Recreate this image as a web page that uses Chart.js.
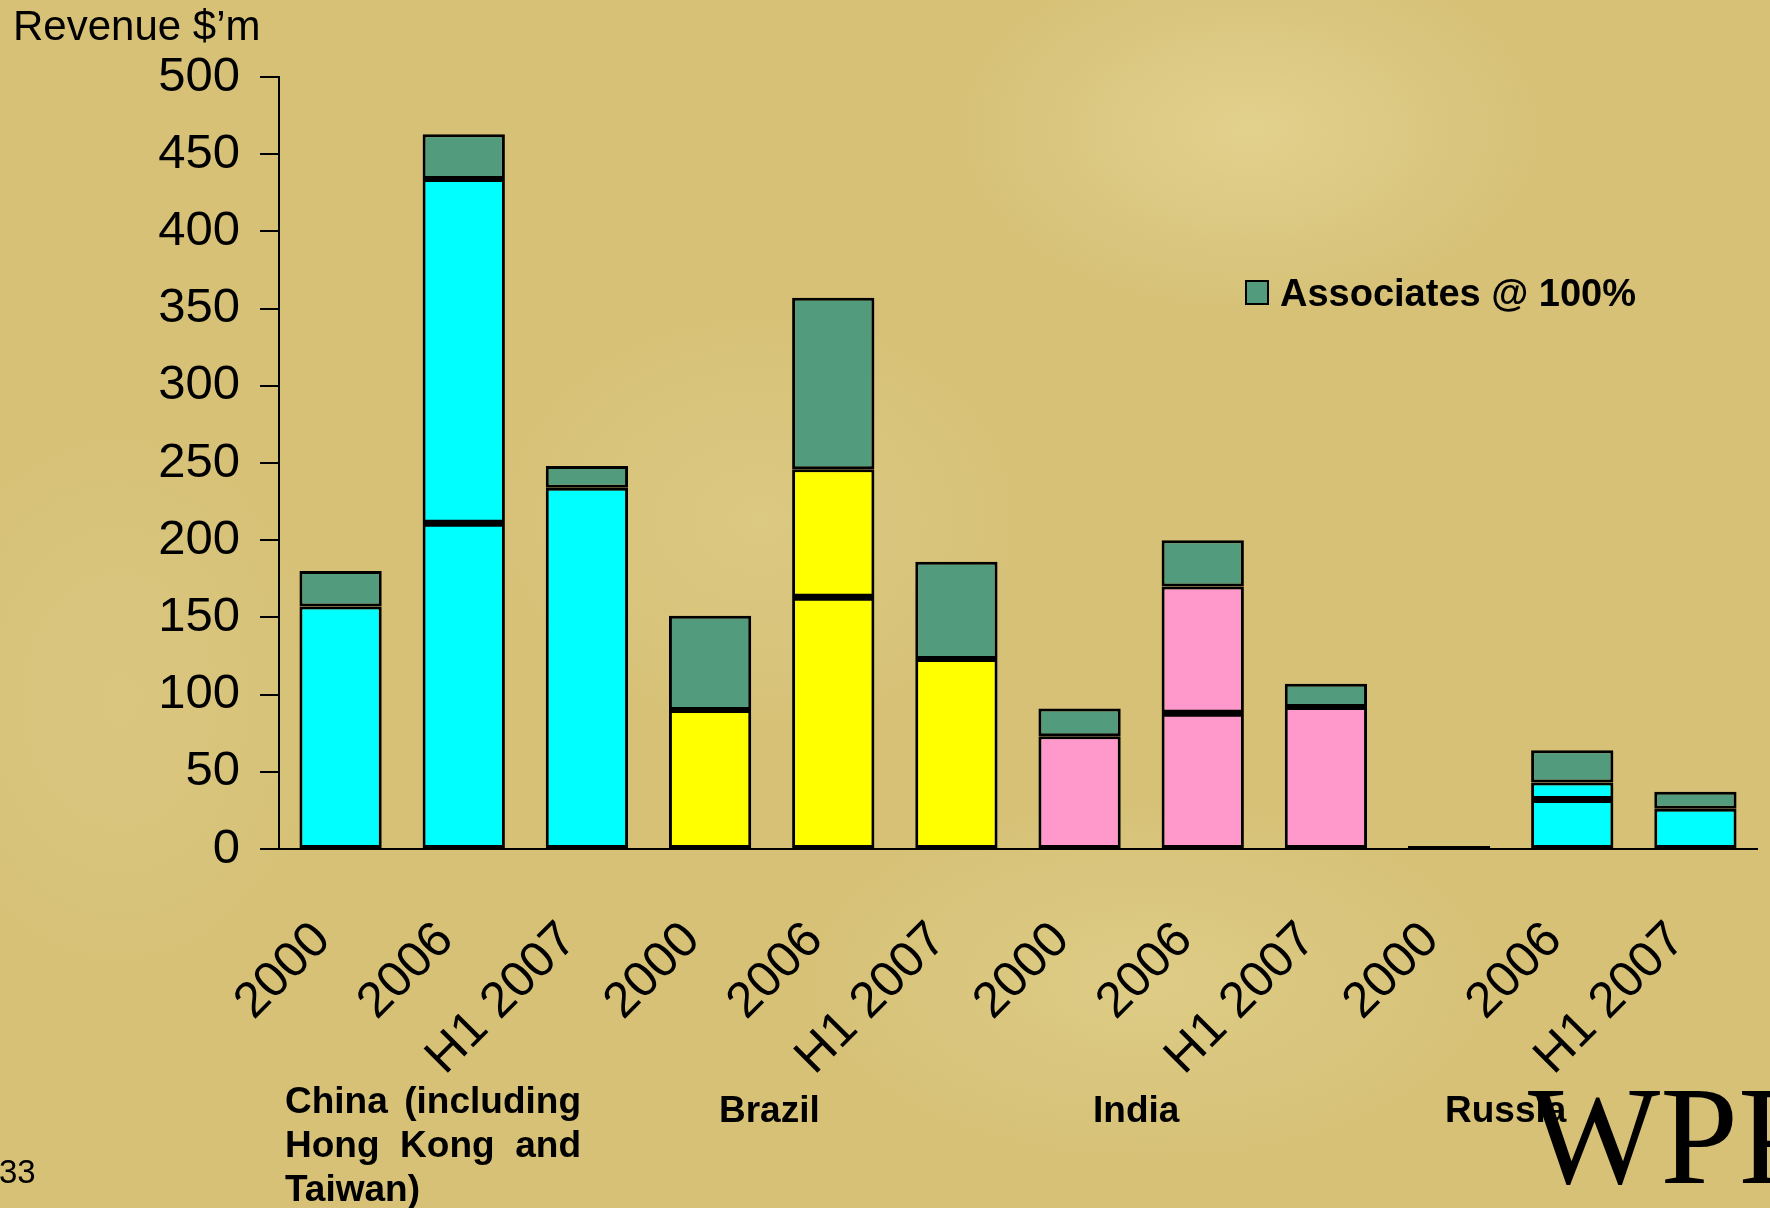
<!DOCTYPE html>
<html>
<head>
<meta charset="utf-8">
<title>Revenue $’m</title>
<script src="https://cdn.jsdelivr.net/npm/chart.js@4.4.1/dist/chart.umd.min.js"></script>
<style>
  html, body { margin: 0; padding: 0; background: #d6c177; }
  #wrap {
    position: relative;
    width: 1770px;
    height: 1208px;
    overflow: hidden;
    background-color: #d6c177;
    background-image:
      radial-gradient(ellipse 420px 260px at 1250px 130px, rgba(236, 222, 160, 0.55), rgba(236, 222, 160, 0) 70%),
      radial-gradient(ellipse 380px 300px at 760px 520px, rgba(232, 216, 150, 0.35), rgba(232, 216, 150, 0) 70%),
      radial-gradient(ellipse 500px 260px at 1150px 980px, rgba(234, 220, 156, 0.4), rgba(234, 220, 156, 0) 70%),
      radial-gradient(ellipse 300px 400px at 120px 700px, rgba(228, 212, 146, 0.3), rgba(228, 212, 146, 0) 70%);
  }
  canvas { display: block; }
</style>
</head>
<body>
<div id="wrap"><canvas id="revenueChart" width="1770" height="1208"></canvas></div>
<script>
// periods repeat for each market
const periods = ['2000', '2006', 'H1 2007', '2000', '2006', 'H1 2007', '2000', '2006', 'H1 2007', '2000', '2006', 'H1 2007'];
const markets = ['China', 'Brazil', 'India', 'Russia'];
const marketLines = [['China (including', 'Hong Kong and', 'Taiwan)'], ['Brazil'], ['India'], ['Russia']];

// revenue, $m
const ownRevenue = [157, 434, 234, 90, 246, 123, 73, 170, 92, 2, 43, 26];
const associateRevenue = [23, 29, 14, 61, 111, 63, 18, 30, 15, null, 21, 11];
const markerLevel = [null, 211, null, null, 163, null, null, 88, null, null, 32, null];

const yTicks = [0, 50, 100, 150, 200, 250, 300, 350, 400, 450, 500];

const marketColours = ['#00ffff', '#ffff00', '#ff99cc', '#00ffff'];
const associateColour = '#539b7d';
const SANS = '"Liberation Sans", Arial, sans-serif';

const ownColours = ownRevenue.map((v, i) => marketColours[Math.floor(i / 3)]);

// text around the plot: axis title, market names, legend, page number, logo
const decorations = {
  id: 'decorations',
  afterDraw(chart) {
    const ctx = chart.ctx;
    ctx.save();
    ctx.fillStyle = '#000';
    ctx.textBaseline = 'alphabetic';
    ctx.textAlign = 'left';

    ctx.font = '42px ' + SANS;
    ctx.fillText('Revenue $’m', 13, 40);

    // market names under the period labels
    ctx.font = 'bold 37px ' + SANS;
    const nameX = [285, 719, 1093, 1445];
    const nameBase = [1113, 1122, 1122, 1122];
    const justifyWidth = 296;
    marketLines.forEach((lines, m) => {
      lines.forEach((line, li) => {
        const y = nameBase[m] + li * 44;
        const words = line.split(' ');
        if (lines.length > 1 && li < lines.length - 1 && words.length > 1) {
          const wordsW = words.reduce((s, w) => s + ctx.measureText(w).width, 0);
          const gap = (justifyWidth - wordsW) / (words.length - 1);
          let x = nameX[m];
          words.forEach(w => { ctx.fillText(w, x, y); x += ctx.measureText(w).width + gap; });
        } else {
          ctx.fillText(line, nameX[m], y);
        }
      });
    });

    // legend entry for associates only
    ctx.fillStyle = associateColour;
    ctx.fillRect(1246, 281, 22, 23);
    ctx.strokeStyle = '#000';
    ctx.lineWidth = 2;
    ctx.strokeRect(1246, 281, 22, 23);
    ctx.fillStyle = '#000';
    ctx.font = 'bold 38px ' + SANS;
    ctx.fillText('Associates @ 100%', 1280, 306);

    ctx.font = '33px ' + SANS;
    ctx.fillText('33', -1, 1183);

    ctx.font = '140px "Liberation Serif", "Times New Roman", serif';
    ctx.fillText('WPP', 1528, 1183);
    ctx.restore();
  }
};

new Chart(document.getElementById('revenueChart'), {
  type: 'bar',
  data: {
    labels: periods,
    datasets: [
      {
        label: 'Revenue',
        data: ownRevenue,
        backgroundColor: ownColours,
        borderColor: '#000',
        borderWidth: 3,
        borderSkipped: false,
        stack: 'revenue',
        order: 2
      },
      {
        label: 'Associates @ 100%',
        data: associateRevenue,
        backgroundColor: associateColour,
        borderColor: '#000',
        borderWidth: 3,
        borderSkipped: false,
        stack: 'revenue',
        order: 2
      },
      {
        type: 'line',
        label: 'Marker',
        data: markerLevel,
        showLine: false,
        pointStyle: 'line',
        pointRadius: 39,
        pointBorderWidth: 7,
        pointBorderColor: '#000',
        borderColor: '#000',
        stack: 'marker',
        order: 0
      }
    ]
  },
  options: {
    responsive: false,
    animation: false,
    events: [],
    layout: { autoPadding: false, padding: { top: 77, right: 13, left: 0, bottom: 0 } },
    datasets: {
      bar: { categoryPercentage: 1, barPercentage: 0.668 }
    },
    scales: {
      x: {
        stacked: true,
        grid: { display: false },
        border: { display: true, color: '#000', width: 2 },
        ticks: {
          autoSkip: false,
          minRotation: 45,
          maxRotation: 45,
          padding: 54,
          labelOffset: -18,
          color: '#000',
          font: { family: SANS, size: 50 }
        },
        // rotated labels end under their bars, so no extra room is needed at the sides
        afterFit: s => {
          s.height = 359;
          s.paddingLeft = 0;
          s.paddingRight = 0;
        }
      },
      y: {
        stacked: true,
        min: 0,
        max: 500,
        afterBuildTicks: s => { s.ticks = yTicks.map(v => ({ value: v })); },
        grid: { drawOnChartArea: false, drawTicks: true, tickLength: 19, color: '#000', lineWidth: 2 },
        border: { display: true, color: '#000', width: 2 },
        ticks: {
          padding: 20,
          color: '#000',
          font: { family: SANS, size: 49 }
        },
        afterFit: s => { s.width = 279; }
      }
    },
    plugins: {
      legend: { display: false },
      tooltip: { enabled: false }
    }
  },
  plugins: [decorations]
});
</script>
</body>
</html>
